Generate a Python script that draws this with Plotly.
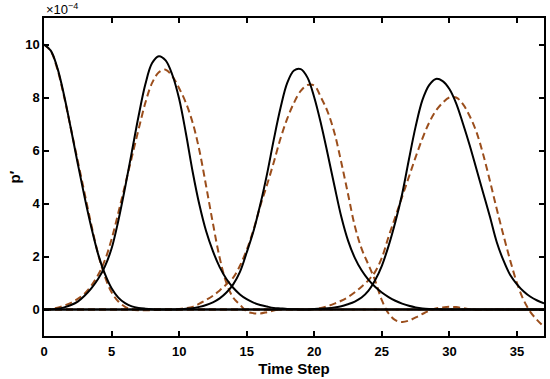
import plotly.graph_objects as go

# time axis (Time Step)
time_step = [0, 0.5, 1, 1.5, 2, 2.5, 3, 3.5, 4, 4.5,
             5, 5.5, 6, 6.5, 7, 7.5, 8, 8.5, 9, 9.5,
             10, 10.5, 11, 11.5, 12, 12.5, 13, 13.5, 14, 14.5,
             15, 15.5, 16, 16.5, 17, 17.5, 18, 18.5, 19, 19.5,
             20, 20.5, 21, 21.5, 22, 22.5, 23, 23.5, 24, 24.5,
             25, 25.5, 26, 26.5, 27, 27.5, 28, 28.5, 29, 29.5,
             30, 30.5, 31, 31.5, 32, 32.5, 33, 33.5, 34, 34.5,
             35, 35.5, 36, 36.5, 37]

# p' values in units of 1e-4 -- exact (solid) pulses
exact_1 = [10.0, 9.77, 9.1, 8.05, 6.8, 5.5, 4.25, 3.1, 2.1, 1.35,
           0.8, 0.45, 0.24, 0.12, 0.06, 0.03, 0.01, 0, 0, 0,
           0, 0, 0, 0, 0, 0, 0, 0, 0, 0,
           0, 0, 0, 0, 0, 0, 0, 0, 0, 0,
           0, 0, 0, 0, 0, 0, 0, 0, 0, 0,
           0, 0, 0, 0, 0, 0, 0, 0, 0, 0,
           0, 0, 0, 0, 0, 0, 0, 0, 0, 0,
           0, 0, 0, 0, 0]
exact_2 = [0, 0.01, 0.03, 0.08, 0.17, 0.3, 0.52, 0.8, 1.15, 1.62,
           2.3, 3.35, 4.6, 5.95, 7.3, 8.5, 9.3, 9.56, 9.4, 8.85,
           7.95, 6.65, 5.2, 3.95, 2.95, 2.2, 1.6, 1.15, 0.82, 0.57,
           0.39, 0.26, 0.17, 0.11, 0.06, 0.04, 0.02, 0.01, 0, 0,
           0, 0, 0, 0, 0, 0, 0, 0, 0, 0,
           0, 0, 0, 0, 0, 0, 0, 0, 0, 0,
           0, 0, 0, 0, 0, 0, 0, 0, 0, 0,
           0, 0, 0, 0, 0]
exact_3 = [0, 0, 0, 0, 0, 0, 0, 0, 0, 0,
           0, 0, 0, 0, 0, 0, 0, 0, 0, 0,
           0.01, 0.03, 0.05, 0.1, 0.17, 0.27, 0.42, 0.64, 0.95, 1.42,
           2.15, 2.95, 3.95, 5.1, 6.4, 7.6, 8.55, 9.02, 9.07, 8.75,
           8.0, 7.0, 5.85, 4.65, 3.5, 2.6, 1.95, 1.48, 1.13, 0.86,
           0.64, 0.47, 0.33, 0.22, 0.14, 0.08, 0.04, 0.02, 0.01, 0,
           0, 0, 0, 0, 0, 0, 0, 0, 0, 0,
           0, 0, 0, 0, 0]
exact_4 = [0, 0, 0, 0, 0, 0, 0, 0, 0, 0,
           0, 0, 0, 0, 0, 0, 0, 0, 0, 0,
           0, 0, 0, 0, 0, 0, 0, 0, 0, 0,
           0, 0, 0, 0, 0, 0, 0, 0, 0, 0,
           0.02, 0.03, 0.05, 0.08, 0.12, 0.2, 0.3, 0.45, 0.7, 1.1,
           1.65, 2.4, 3.3, 4.35, 5.65, 6.9, 7.9, 8.47, 8.7, 8.62,
           8.32, 7.78, 7.02, 6.2, 5.3, 4.4, 3.5, 2.55, 1.85, 1.3,
           0.95, 0.68, 0.48, 0.34, 0.23]

# numerical (dashed) pulses
numer_1 = [10.0, 9.75, 9.05, 8.0, 6.8, 5.6, 4.4, 3.2, 2.1, 1.25,
           0.65, 0.3, 0.1, 0.0, -0.03, -0.03, -0.02, -0.01, 0, 0,
           0, 0, 0, 0, 0, 0, 0, 0, 0, 0,
           0, 0, 0, 0, 0, 0, 0, 0, 0, 0,
           0, 0, 0, 0, 0, 0, 0, 0, 0, 0,
           0, 0, 0, 0, 0, 0, 0, 0, 0, 0,
           0, 0, 0, 0, 0, 0, 0, 0, 0, 0,
           0, 0, 0, 0, 0]
numer_2 = [0, 0.02, 0.07, 0.15, 0.25, 0.4, 0.6, 0.9, 1.3, 1.85,
           2.65, 3.65, 4.7, 5.75, 6.8, 7.8, 8.55, 8.95, 9.05, 8.8,
           8.35, 7.8, 7.05, 6.0, 4.65, 3.25, 1.95, 1.0, 0.45, 0.18,
           -0.07, -0.14, -0.15, -0.1, -0.04, 0, 0.02, 0.01, 0, 0,
           0, 0, 0, 0, 0, 0, 0, 0, 0, 0,
           0, 0, 0, 0, 0, 0, 0, 0, 0, 0,
           0, 0, 0, 0, 0, 0, 0, 0, 0, 0,
           0, 0, 0, 0, 0]
numer_3 = [0, 0, 0, 0, 0, 0, 0, 0, 0, 0,
           0, 0, 0, 0, 0, 0, 0, 0, 0, 0,
           0.02, 0.05, 0.1, 0.22, 0.36, 0.52, 0.72, 0.95, 1.2, 1.65,
           2.25, 3.0, 3.9, 4.7, 5.55, 6.45, 7.2, 7.8, 8.25, 8.47,
           8.45, 8.0, 7.45, 6.65, 5.55, 4.35, 3.15, 2.3, 1.7, 1.1,
           0.35, -0.15, -0.4, -0.47, -0.42, -0.3, -0.17, -0.05, 0.04, 0.08,
           0.1, 0.09, 0.05, 0.01, -0.02, -0.02, -0.01, 0, 0, 0,
           0, 0, 0, 0, 0]
numer_4 = [0, 0, 0, 0, 0, 0, 0, 0, 0, 0,
           0, 0, 0, 0, 0, 0, 0, 0, 0, 0,
           0, 0, 0, 0, 0, 0, 0, 0, 0, 0,
           0, 0, 0, 0, 0, 0, 0, 0, 0, 0.01,
           0.02, 0.06, 0.13, 0.22, 0.33, 0.47, 0.65, 0.86, 1.1, 1.42,
           1.95, 2.75, 3.5, 4.25, 5.0, 5.75, 6.45, 7.05, 7.5, 7.8,
           8.0, 8.0, 7.75, 7.3, 6.7, 5.85, 4.85, 3.8, 2.8, 1.85,
           1.0, 0.35, -0.1, -0.4, -0.65]

x_ticks = [0, 5, 10, 15, 20, 25, 30, 35]
y_ticks = [0, 2, 4, 6, 8, 10]

BROWN = "rgb(155,78,28)"
fig = go.Figure()
for ser in [numer_1, numer_2, numer_3, numer_4]:
    fig.add_trace(go.Scatter(x=time_step, y=ser, mode="lines",
                             line=dict(color=BROWN, width=2, dash="7px,4px", shape="spline"),
                             showlegend=False, hoverinfo="skip"))
for ser in [exact_1, exact_2, exact_3, exact_4]:
    fig.add_trace(go.Scatter(x=time_step, y=ser, mode="lines",
                             line=dict(color="black", width=2, shape="spline"),
                             showlegend=False, hoverinfo="skip"))

tickfont = dict(family="Liberation Sans", size=13, color="black", weight="bold")
axis_common = dict(showline=True, linecolor="black", linewidth=1.5, mirror="ticks",
                   ticks="inside", ticklen=5, tickwidth=1.5, tickcolor="black",
                   showgrid=False, zeroline=False, tickfont=tickfont, automargin=False)

fig.update_layout(
    width=550, height=379,
    margin=dict(l=44, r=6, t=18, b=43),
    paper_bgcolor="white", plot_bgcolor="white",
    xaxis=dict(range=[0, 37], tickvals=x_ticks, ticklabelstandoff=3,
               title=dict(text="Time Step", standoff=5,
                          font=dict(family="Liberation Sans", size=15, color="black", weight="bold")),
               **axis_common),
    yaxis=dict(range=[-1, 11], tickvals=y_ticks,
               title=dict(text="p′", standoff=1,
                          font=dict(family="Liberation Sans", size=15, color="black", weight="bold")),
               **axis_common),
    annotations=[dict(text="×10<sup>−4</sup>", xref="paper", yref="paper", x=0, y=1,
                      xanchor="left", yanchor="bottom", showarrow=False, yshift=-1,
                      font=dict(family="Liberation Sans", size=13, color="black"))],
)

fig.write_html("out.html", config={"displayModeBar": False},
               post_script="document.body.style.margin='0';document.body.style.overflow='hidden';")
